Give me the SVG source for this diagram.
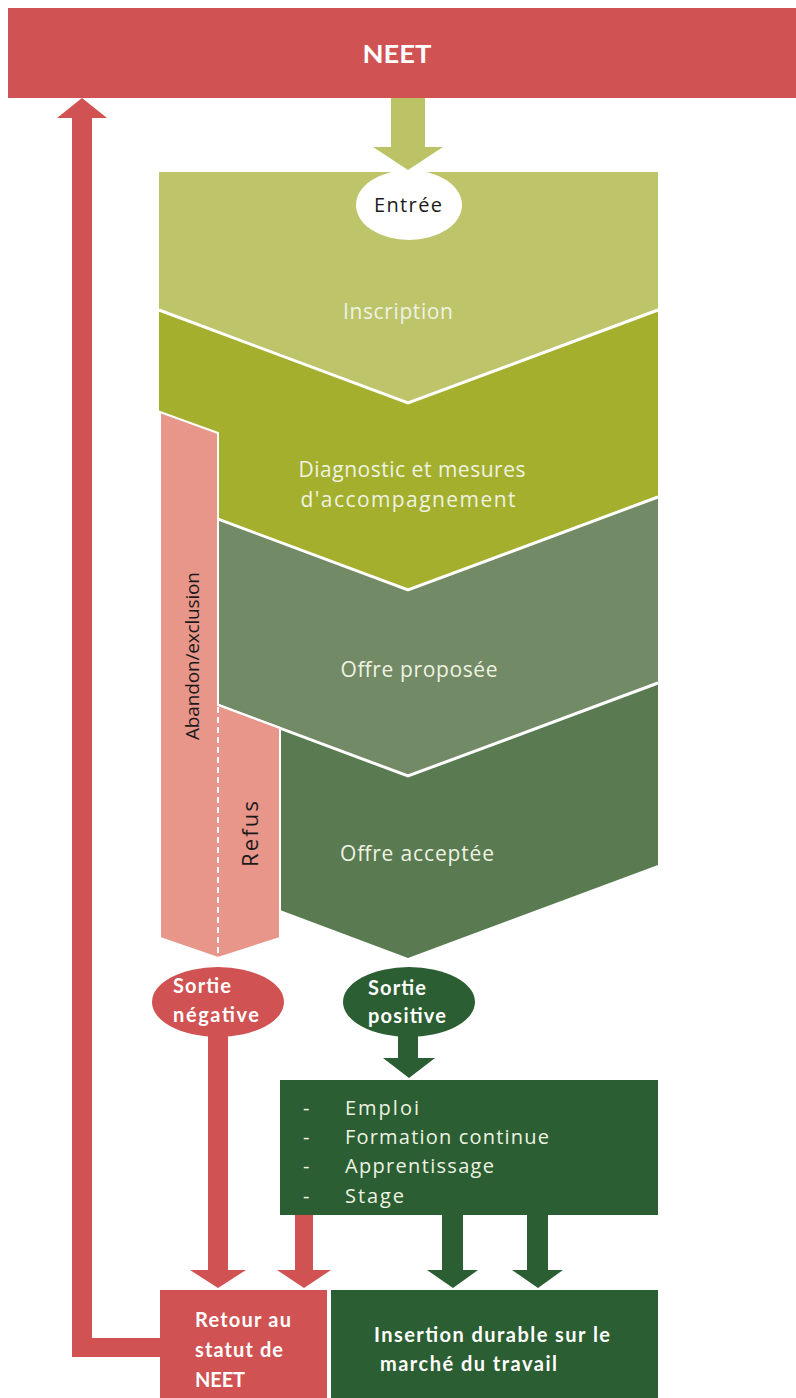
<svg xmlns="http://www.w3.org/2000/svg" width="796" height="1398" viewBox="0 0 796 1398">
<style>
.lt{font-family:"Open Sans","Liberation Sans",sans-serif;font-size:21px;fill:#eef3e2;text-anchor:middle}
.bk{font-family:"Open Sans","Liberation Sans",sans-serif;font-size:19px;fill:#1a1a1a}
.bw{font-family:"Lato","Liberation Sans",sans-serif;font-size:20px;font-weight:bold;fill:#ffffff}
.li{font-family:"Open Sans","Liberation Sans",sans-serif;font-size:20px;fill:#eef3e2}
.sep{fill:none;stroke:#ffffff;stroke-width:3}
.red{fill:#d05252}
.dg{fill:#2b5e32}
</style>
<g id="neet">
<rect x="8" y="8" width="788" height="90" class="red"/>
<text x="397" y="63" text-anchor="middle" font-family="Lato, 'Liberation Sans', sans-serif" font-weight="bold" font-size="25" fill="#ffffff" textLength="69" lengthAdjust="spacingAndGlyphs">NEET</text>
</g>
<g id="inscription">
<polygon points="159,172 658,172 658,310 408,403 159,310" fill="#bec46a"/>
<text class="lt" x="398" y="319" textLength="110">Inscription</text>
</g>
<g id="diagnostic">
<polygon points="159,310 408,403 658,310 658,497 408,590 159,497" fill="#a4af2e"/>
<text class="lt" x="412" y="477" textLength="227">Diagnostic et mesures</text>
<text class="lt" x="408" y="507" textLength="215">d'accompagnement</text>
</g>
<g id="offre-proposee">
<polygon points="159,497 408,590 658,497 658,683 408,776 159,683" fill="#738a66"/>
<text class="lt" x="419" y="677" textLength="157">Offre proposée</text>
</g>
<g id="offre-acceptee">
<polygon points="280,728 408,776 658,683 658,865 408,958 280,910" fill="#5a7a52"/>
<text class="lt" x="417" y="861" textLength="154">Offre acceptée</text>
</g>
<g id="separateurs">
<polyline class="sep" points="159,310 408,403 658,310"/>
<polyline class="sep" points="159,497 408,590 658,497"/>
<polyline class="sep" points="159,683 408,776 658,683"/>
<line x1="280" y1="728" x2="280" y2="912" stroke="#ffffff" stroke-width="2"/>
</g>
<g id="abandon">
<polygon points="160,412 218,433 218,705 280,728 280,938 218,958 160,938" fill="#e8958a" stroke="#ffffff" stroke-width="2"/>
<line x1="218" y1="707" x2="218" y2="956" stroke="#ffffff" stroke-width="2" stroke-dasharray="6,4"/>
<text class="bk" transform="translate(199,656) rotate(-90)" text-anchor="middle" textLength="168">Abandon/exclusion</text>
<text class="bk" transform="translate(258,834) rotate(-90)" text-anchor="middle" style="font-size:22px" textLength="66">Refus</text>
</g>
<g id="connecteurs">
<polygon points="391,98 425,98 425,147 443,147 408,170 373,147 391,147" fill="#bcc266"/>
<polygon points="82,98 107,118 92,118 92,1338 160,1338 160,1357 72,1357 72,118 57,118" class="red"/>
<polygon points="208,1035 228,1035 228,1270 246,1270 218,1288 190,1270 208,1270" class="red"/>
<polygon points="295,1215 313,1215 313,1270 331,1270 304,1288 277,1270 295,1270" class="red"/>
<polygon points="398,1036 418,1036 418,1058 435,1058 409,1078 383,1058 398,1058" class="dg"/>
<polygon points="442,1215 463,1215 463,1270 478,1270 453,1288 427,1270 442,1270" class="dg"/>
<polygon points="527,1215 548,1215 548,1270 563,1270 538,1288 512,1270 527,1270" class="dg"/>
</g>
<g id="entree">
<ellipse cx="409" cy="205" rx="53" ry="35" fill="#ffffff"/>
<text class="bk" x="408" y="212" text-anchor="middle" style="font-size:20px" textLength="68">Entrée</text>
</g>
<g id="sortie-negative">
<ellipse cx="218" cy="1002" rx="66" ry="35" class="red"/>
<text class="bw" x="173" y="993" textLength="58">Sortie</text>
<text class="bw" x="173" y="1022" textLength="86">négative</text>
</g>
<g id="sortie-positive">
<ellipse cx="409" cy="1002" rx="66" ry="35" class="dg"/>
<text class="bw" x="368" y="995" textLength="58">Sortie</text>
<text class="bw" x="368" y="1023" textLength="78">positive</text>
</g>
<g id="debouches">
<rect x="280" y="1080" width="378" height="135" class="dg"/>
<text class="li" x="303" y="1115">-</text>
<text class="li" x="345" y="1115" textLength="74">Emploi</text>
<text class="li" x="303" y="1144">-</text>
<text class="li" x="345" y="1144" textLength="204">Formation continue</text>
<text class="li" x="303" y="1173">-</text>
<text class="li" x="345" y="1173" textLength="149">Apprentissage</text>
<text class="li" x="303" y="1203">-</text>
<text class="li" x="345" y="1203" textLength="59">Stage</text>
</g>
<g id="retour">
<rect x="160" y="1290" width="167" height="108" class="red"/>
<text class="bw" x="195" y="1327" textLength="96">Retour au</text>
<text class="bw" x="195" y="1357" textLength="88">statut de</text>
<text class="bw" x="195" y="1387" textLength="50">NEET</text>
</g>
<g id="insertion">
<rect x="331" y="1290" width="327" height="108" class="dg"/>
<text class="bw" x="374" y="1342" textLength="236">Insertion durable sur le</text>
<text class="bw" x="380" y="1371" textLength="177">marché du travail</text>
</g>
</svg>
